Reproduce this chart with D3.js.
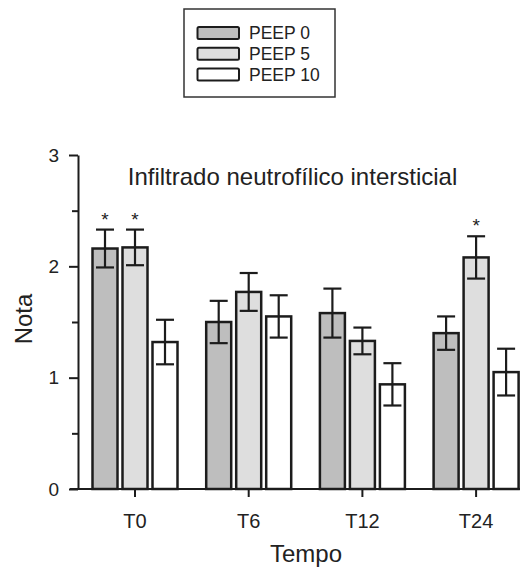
<!DOCTYPE html>
<html>
<head>
<meta charset="utf-8">
<script src="https://cdn.jsdelivr.net/npm/d3@7/dist/d3.min.js"></script>
<style>
  html, body { margin: 0; padding: 0; background: #fff; }
  svg { display: block; font-family: "Liberation Sans", Arial, sans-serif; }
</style>
</head>
<body>
<svg id="chart" width="531" height="577"></svg>
<script>
// Time points and ventilation groups
const categories = ["T0", "T6", "T12", "T24"];
const series = ["PEEP 0", "PEEP 5", "PEEP 10"];

// Mean score per group at each time point
const peep0 = [2.16, 1.50, 1.58, 1.40];
const peep5 = [2.17, 1.77, 1.33, 2.08];
const peep10 = [1.32, 1.55, 0.94, 1.05];

// Standard error per group at each time point
const err0 = [0.17, 0.19, 0.22, 0.15];
const err5 = [0.16, 0.17, 0.12, 0.19];
const err10 = [0.20, 0.19, 0.19, 0.21];

// Significance markers (*)
const sig0 = [true, false, false, false];
const sig5 = [true, false, false, true];
const sig10 = [false, false, false, false];

const yTicks = [0, 1, 2, 3];
const yMinorTicks = [0.5, 1.5, 2.5];

const fills = ["#bebebe", "#dedede", "#ffffff"];
const ink = "#1c1c1c";

const means = [peep0, peep5, peep10];
const errs = [err0, err5, err10];
const sigs = [sig0, sig5, sig10];

const rows = [];
categories.forEach((c, i) => {
  series.forEach((s, j) => {
    rows.push({ cat: c, ser: s, idx: j, mean: means[j][i], se: errs[j][i], sig: sigs[j][i] });
  });
});

const svg = d3.select("#chart");

const axisX = 78, baseY = 489, topY = 155;

const y = d3.scaleLinear().domain([0, 3]).range([baseY, topY]);
const step = 113.7;
const x = d3.scaleBand().domain(categories)
  .range([135 - step / 2, 135 - step / 2 + step * categories.length])
  .paddingInner(0).paddingOuter(0);
const xs = d3.scaleBand().domain(series).range([-45, 45])
  .paddingInner(1 / 6).paddingOuter(1 / 12);

const barCenter = d => x(d.cat) + x.bandwidth() / 2 + xs(d.ser) + xs.bandwidth() / 2;

// Bars
const g = svg.append("g");
g.selectAll("rect.bar").data(rows).join("rect")
  .attr("class", "bar")
  .attr("x", d => x(d.cat) + x.bandwidth() / 2 + xs(d.ser))
  .attr("y", d => y(d.mean))
  .attr("width", xs.bandwidth())
  .attr("height", d => y(0) - y(d.mean))
  .attr("fill", d => fills[d.idx])
  .attr("stroke", ink)
  .attr("stroke-width", 2.5);

// Error bars
const capW = 18;
const eb = g.selectAll("g.err").data(rows).join("g")
  .attr("class", "err")
  .attr("transform", d => `translate(${barCenter(d)},0)`)
  .attr("stroke", ink).attr("stroke-width", 2.2);
eb.append("line").attr("x1", 0).attr("x2", 0)
  .attr("y1", d => y(d.mean + d.se)).attr("y2", d => y(d.mean - d.se));
eb.append("line").attr("x1", -capW / 2).attr("x2", capW / 2)
  .attr("y1", d => y(d.mean + d.se)).attr("y2", d => y(d.mean + d.se));
eb.append("line").attr("x1", -capW / 2).attr("x2", capW / 2)
  .attr("y1", d => y(d.mean - d.se)).attr("y2", d => y(d.mean - d.se));

// Significance stars
g.selectAll("text.star").data(rows.filter(d => d.sig)).join("text")
  .attr("class", "star")
  .attr("x", barCenter)
  .attr("y", d => y(d.mean + d.se) - 4)
  .attr("text-anchor", "middle")
  .attr("font-size", 19)
  .attr("fill", ink)
  .text("*");

// Y axis: major ticks with labels, minor ticks without
const yAxis = svg.append("g").attr("transform", `translate(${axisX},0)`)
  .call(d3.axisLeft(y).tickValues(yTicks).tickSize(9).tickSizeOuter(0).tickPadding(10)
    .tickFormat(d3.format("d")));
yAxis.select(".domain").attr("stroke", ink).attr("stroke-width", 2);
yAxis.selectAll(".tick line").attr("stroke", ink).attr("stroke-width", 2);
yAxis.selectAll(".tick text").attr("font-size", 19).attr("fill", "#222")
  .attr("font-family", "Liberation Sans, Arial, sans-serif");

const yMinor = svg.append("g").attr("transform", `translate(${axisX},0)`)
  .call(d3.axisLeft(y).tickValues(yMinorTicks).tickSize(6).tickFormat(""));
yMinor.select(".domain").remove();
yMinor.selectAll(".tick line").attr("stroke", ink).attr("stroke-width", 2);

// X axis
const xAxis = svg.append("g").attr("transform", `translate(0,${baseY})`)
  .call(d3.axisBottom(x).tickSize(8).tickSizeOuter(0).tickPadding(17));
xAxis.select(".domain").attr("d", "M70,0H520").attr("stroke", ink).attr("stroke-width", 2);
xAxis.selectAll(".tick line").attr("stroke", ink).attr("stroke-width", 2);
xAxis.selectAll(".tick text").attr("font-size", 20).attr("fill", "#222")
  .attr("font-family", "Liberation Sans, Arial, sans-serif");

// Title and axis labels
svg.append("text").attr("x", 292.5).attr("y", 185).attr("text-anchor", "middle")
  .attr("font-size", 24).attr("fill", "#222")
  .text("Infiltrado neutrofílico intersticial");
svg.append("text").attr("x", 306).attr("y", 562).attr("text-anchor", "middle")
  .attr("font-size", 24).attr("fill", "#222").text("Tempo");
svg.append("text").attr("transform", "translate(23,319) rotate(-90)")
  .attr("text-anchor", "middle").attr("dominant-baseline", "central")
  .attr("font-size", 24).attr("fill", "#222").text("Nota");

// Legend
const lg = svg.append("g");
lg.append("rect").attr("x", 184).attr("y", 9).attr("width", 151).attr("height", 88)
  .attr("fill", "none").attr("stroke", "#333").attr("stroke-width", 1.5);
const rowY = [33, 53.7, 74.5];
const items = lg.selectAll("g.item").data(series).join("g").attr("class", "item")
  .attr("transform", (d, i) => `translate(0,${rowY[i]})`);
items.append("rect").attr("x", 197.5).attr("y", -6).attr("width", 41.5).attr("height", 12)
  .attr("rx", 1.5)
  .attr("fill", (d, i) => fills[i]).attr("stroke", ink).attr("stroke-width", 2);
items.append("text").attr("x", 249).attr("y", 6.3)
  .attr("font-size", 17.5).attr("fill", "#222").text(d => d);
</script>
</body>
</html>
